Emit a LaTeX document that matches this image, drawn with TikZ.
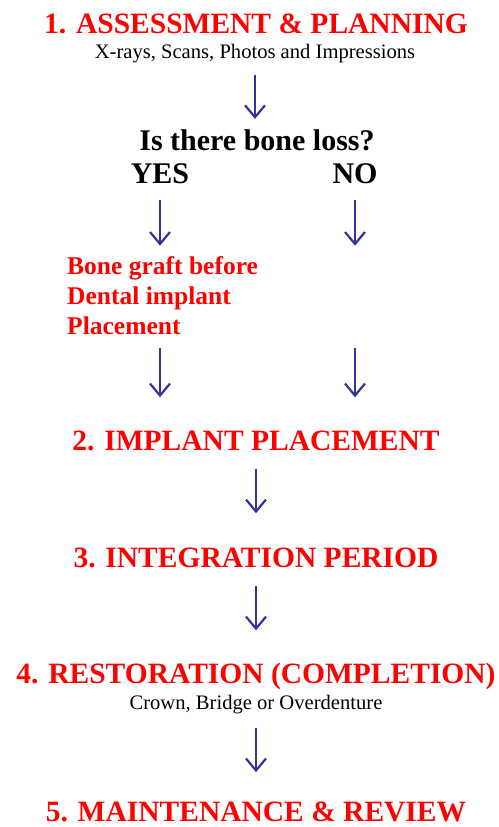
\documentclass[tikz,border=0pt]{standalone}
\usepackage{fontspec}
\setmainfont{Liberation Serif}
\usepackage{tikz}
\usetikzlibrary{positioning,arrows.meta}

\definecolor{headred}{RGB}{255,0,0}
\definecolor{arrblue}{RGB}{51,51,153}

\begin{document}
\begin{tikzpicture}[
  x=1pt,y=-1pt,
  head/.style={inner sep=0pt,anchor=base,text=headred,font=\fontsize{29.5}{36}\selectfont\bfseries},
  sub/.style={inner sep=0pt,anchor=base,font=\fontsize{20.6}{24}\selectfont},
  ask/.style={inner sep=0pt,anchor=base,font=\fontsize{30}{36}\selectfont\bfseries},
  arr/.style={draw=arrblue,line width=2.2pt,-{Straight Barb[length=12pt,width=20pt,line width=2.2pt]}},
]
\useasboundingbox (0,0) rectangle (498,827);
% ---- assessment ----
\node[head] (t1) at (256,33) {1. ASSESSMENT \& PLANNING};
\node[sub] (s1) at (255,58) {X-rays, Scans, Photos and Impressions};
\node[ask] (q) at (257,150) {Is there bone loss?};
\node[ask] (yes) at (160,183) {YES};
\node[ask] (no) at (355,183) {NO};
\node[inner sep=0pt,anchor=west,align=left,text=headred,
  font=\fontsize{25.5}{30}\selectfont\bfseries] (graft) at (67,296)
  {Bone graft before\\Dental implant\\Placement};
\draw[arr,shorten <=12pt,shorten >=10pt] (s1.south) -- (s1.south |- q.north);
\draw[arr,shorten <=17pt,shorten >=11pt] (yes.south) -- (yes.south |- graft.north);
\draw[arr,shorten <=17pt,shorten >=11pt] (no.south) -- (no.south |- graft.north);
% ---- placement ----
\node[head] (t2) at (256,450) {2. IMPLANT PLACEMENT};
\draw[arr,shorten <=13pt,shorten >=33pt] (yes.south |- graft.south) -- (yes.south |- t2.north);
\draw[arr,shorten <=13pt,shorten >=33pt] (no.south |- graft.south) -- (no.south |- t2.north);
% ---- integration ----
\node[head] (t3) at (256,567) {3. INTEGRATION PERIOD};
\draw[arr,shorten <=18pt,shorten >=34pt] (t2.south) -- (t3.north);
% ---- restoration ----
\node[head] (t4) at (256,683) {4. RESTORATION (COMPLETION)};
\node[sub] (s4) at (256,709) {Crown, Bridge or Overdenture};
\draw[arr,shorten <=18pt,shorten >=32pt] (t3.south) -- (t4.north);
% ---- maintenance ----
\node[head] (t5) at (256,821) {5. MAINTENANCE \& REVIEW};
\draw[arr,shorten <=14pt,shorten >=29pt] (s4.south) -- (t5.north);
\end{tikzpicture}
\end{document}
